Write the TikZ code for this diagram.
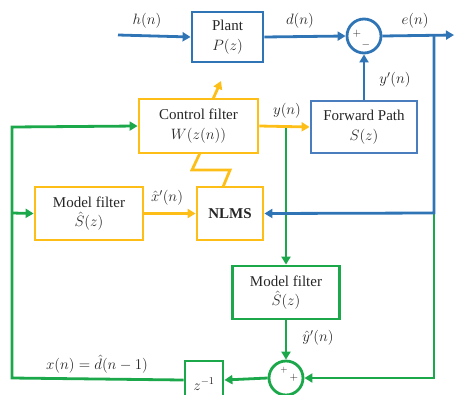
\RequirePackage{fix-cm}
\documentclass[tikz,border=0pt]{standalone}
\usepackage{fontspec}
\setmainfont{Liberation Serif}
\usetikzlibrary{arrows.meta}
\definecolor{cblue}{HTML}{2F75B5}
\definecolor{cbluebox}{HTML}{4A7DBE}
\definecolor{cyel}{HTML}{FDBF17}
\definecolor{cgreen}{HTML}{1BA84A}
\definecolor{ctext}{HTML}{262626}
\begin{document}
\begin{tikzpicture}[x=1pt,y=-1pt,
  every node/.style={text=ctext,font=\fontsize{15}{19.5}\selectfont},
  blk/.style={draw=#1,line width=2.8pt,rectangle,align=center,inner sep=0pt},
  sumc/.style={draw=#1,line width=2.8pt,circle,minimum size=34pt,inner sep=0pt},
  wire/.style={line width=2.8pt},
  arr/.style={wire,-{Triangle[length=8pt,width=9pt]}},
  lbl/.style={inner sep=0pt}
]
\clip (0,0) rectangle (454,394);
% blocks
\node[blk=cblue,minimum width=71pt,minimum height=50pt] (plant) at (227.5,37) {Plant\\$P(z)$};
\node[sumc=cblue] (sum1) at (364,36) {};
\node[blk=cbluebox,minimum width=106pt,minimum height=52pt] (fwd) at (364,127) {Forward Path\\$S(z)$};
\node[blk=cyel,minimum width=119pt,minimum height=54pt] (ctrl) at (198.5,126) {Control filter\\$W(z(n))$};
\node[blk=cyel,minimum width=108pt,minimum height=53pt] (mf1) at (89,213.5) {Model filter\\$\hat{S}(z)$};
\node[blk=cyel,minimum width=66pt,minimum height=53pt,font=\fontsize{15}{18}\selectfont\bfseries] (nlms) at (230,213.5) {NLMS};
\node[blk=cgreen,minimum width=107pt,minimum height=53pt] (mf2) at (286,292.5) {Model filter\\$\hat{S}(z)$};
\node[sumc=cgreen] (sum2) at (286,378) {};
\node[blk=cgreen,minimum width=38pt,minimum height=38pt] (zinv) at (204,380) {};
\node[lbl] (zt) at (204,384) {$z^{-1}$};
% signs
\node[lbl,font=\fontsize{11}{11}\selectfont] (p1) at (357,34) {$+$};
\node[lbl,font=\fontsize{11}{11}\selectfont] (m1) at (366,45) {$-$};
\node[lbl,font=\fontsize{9}{9}\selectfont] (p2) at (284,370) {$+$};
\node[lbl,font=\fontsize{11}{11}\selectfont] (p3) at (294,378) {$+$};
% coordinates
\coordinate (hin) at (118,35);
\coordinate (eout) at (454,35);
\coordinate (tapE) at (434,35);
\coordinate (tapN) at (434,213);
\coordinate (tapB) at (434,378);
\coordinate (yt) at (286,126);
\coordinate (lt) at (12,127);
\coordinate (lm) at (12,213);
\coordinate (lb) at (12,378);
\coordinate (z1) at (200,153);
\coordinate (z2) at (192,170);
\coordinate (z3) at (230,170);
\coordinate (z4) at (223,187);
\coordinate (a1) at (213,99);
\coordinate (a2) at (221,81);
% green
\draw[arr,cgreen] (yt) -- (mf2.north);
\draw[arr,cgreen] (mf2.south) -- (sum2.north);
\draw[arr,cgreen] (tapN) -- (tapB) -- (sum2.east);
\draw[arr,cgreen] (sum2.west) -- (zinv.east);
\draw[arr,cgreen] (zinv.west) -- (lb) -- (lt) -- (ctrl.west);
\draw[arr,cgreen] (lm) -- (mf1.west);
% blue
\draw[arr,cblue] (hin) -- (plant.west);
\draw[arr,cblue] (plant.east) -- (sum1.west);
\draw[arr,cblue] (sum1.east) -- (eout);
\draw[arr,cblue] (tapE) -- (tapN) -- (nlms.east);
\draw[arr,cblue] (fwd.north) -- (sum1.south);
% yellow
\draw[arr,cyel] (ctrl.east) -- (fwd.west);
\draw[arr,cyel] (mf1.east) -- (nlms.west);
\draw[wire,cyel] (z1) -- (z2) -- (z3) -- (z4);
\draw[arr,cyel] (a1) -- (a2);
% labels
\node[lbl] (lh) at (147,21) {$h(n)$};
\node[lbl] (ld) at (300,21) {$d(n)$};
\node[lbl] (le) at (415,21) {$e(n)$};
\node[lbl] (lyp) at (395,80) {$y'(n)$};
\node[lbl] (ly) at (287,111) {$y(n)$};
\node[lbl] (lxh) at (167,198) {$\hat{x}'(n)$};
\node[lbl] (lyh) at (318,338) {$\hat{y}'(n)$};
\node[lbl] (lx) at (97,364) {$x(n)=\hat{d}(n-1)$};
\end{tikzpicture}
\end{document}
